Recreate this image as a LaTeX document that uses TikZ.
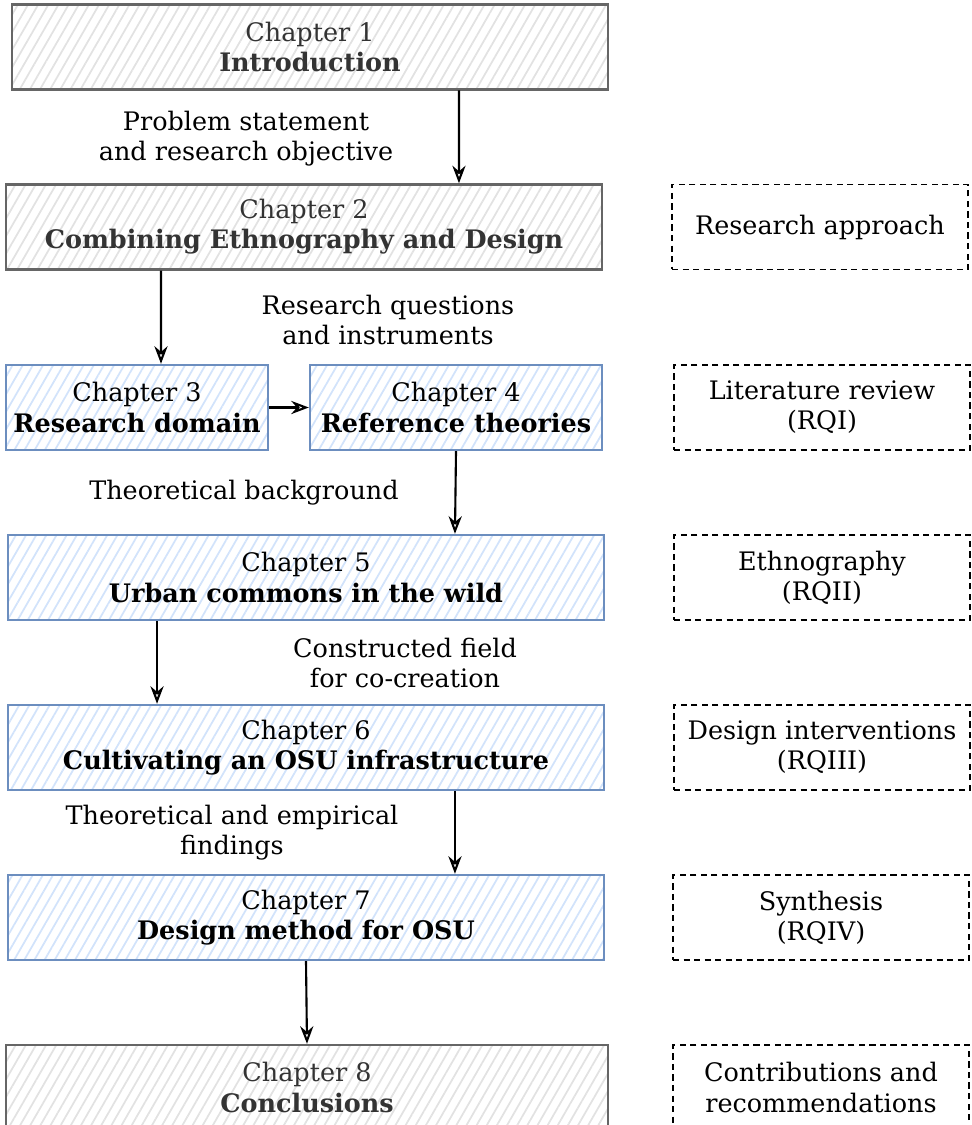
\documentclass[tikz,border=0pt]{standalone}
\usepackage{fontspec}
\setmainfont{DejaVu Serif}
\usetikzlibrary{arrows.meta,patterns.meta}
\definecolor{grayhatch}{HTML}{E2E2E2}
\definecolor{graydraw}{HTML}{666666}
\definecolor{graytext}{HTML}{333333}
\definecolor{bluehatch}{HTML}{D2E3FB}
\definecolor{bluedraw}{HTML}{6C8EBF}
\begin{document}
\begin{tikzpicture}[x=0.02cm,y=-0.02cm,
        every node/.style={font=\fontsize{14.5pt}{17.2pt}\selectfont, align=center},
        chapgray/.style={draw=graydraw, line width=1.4pt, text=graytext, inner sep=0pt,
            pattern={Lines[angle=60,distance=5pt,line width=1pt]}, pattern color=grayhatch,
            minimum width=11.92cm, minimum height=1.7cm},
        chapblue/.style={draw=bluedraw, line width=1.4pt, text=black, inner sep=0pt,
            pattern={Lines[angle=60,distance=5pt,line width=1pt]}, pattern color=bluehatch,
            minimum width=11.92cm, minimum height=1.7cm},
        rolebox/.style={draw=black, line width=1.1pt, dash pattern=on 3.5pt off 2.5pt,
            inner sep=0pt, minimum width=5.92cm, minimum height=1.7cm},
        flow/.style={-{Stealth[open,length=10pt,width=7.5pt]}, line width=1.2pt}]
    \clip (0,0) rectangle (971,1125);

    \node[chapgray] (ch1) at (310,47) {Chapter 1\\\textbf{Introduction}};
    \node[chapgray] (ch2) at (304,227) {Chapter 2\\\textbf{Combining Ethnography and Design}};
    \node[chapblue, minimum width=5.24cm] (ch3) at (137,407.5) {Chapter 3\\\textbf{Research domain}};
    \node[chapblue, minimum width=5.84cm] (ch4) at (456,407.5) {Chapter 4\\\textbf{Reference theories}};
    \node[chapblue] (ch5) at (306,577.5) {Chapter 5\\\textbf{Urban commons in the wild}};
    \node[chapblue] (ch6) at (306,747.5) {Chapter 6\\\textbf{Cultivating an OSU infrastructure}};
    \node[chapblue] (ch7) at (306,917.5) {Chapter 7\\\textbf{Design method for OSU}};
    \node[chapgray, minimum width=12.04cm] (ch8) at (307,1087.5) {Chapter 8\\\textbf{Conclusions}};

    \node[rolebox] (approach) at (820,227) {Research approach};
    \node[rolebox] (review) at (822,407.5) {Literature review\\(RQI)};
    \node[rolebox] (ethno) at (822,577.5) {Ethnography\\(RQII)};
    \node[rolebox] (interv) at (822,747.5) {Design interventions\\(RQIII)};
    \node[rolebox] (synth) at (821,917.5) {Synthesis\\(RQIV)};
    \node[rolebox] (contrib) at (821,1087.5) {Contributions and\\recommendations};

    % edge labels
    \node (l12) at (246,139) {Problem statement\\and research objective};
    \node (l23) at (388,320) {Research questions\\and instruments};
    \node (l45) at (244,493) {Theoretical background};
    \node (l56) at (405,663) {Constructed field\\for co-creation};
    \node (l67) at (232,833) {Theoretical and empirical\\findings};

    \draw[flow] ([xshift=2.98cm]ch1.south) to ([xshift=3.10cm]ch2.north);
    \draw[flow] ([xshift=-2.86cm]ch2.south) to ([xshift=0.48cm]ch3.north);
    \draw[flow] (ch3.east) to (ch4.west);
    \draw[flow] (ch4.south) to ([xshift=2.98cm]ch5.north);
    \draw[flow] ([xshift=-2.98cm]ch5.south) to ([xshift=-2.98cm]ch6.north);
    \draw[flow] ([xshift=2.98cm]ch6.south) to ([xshift=2.98cm]ch7.north);
    \draw[flow] (ch7.south) to (ch8.north);
\end{tikzpicture}
\end{document}
